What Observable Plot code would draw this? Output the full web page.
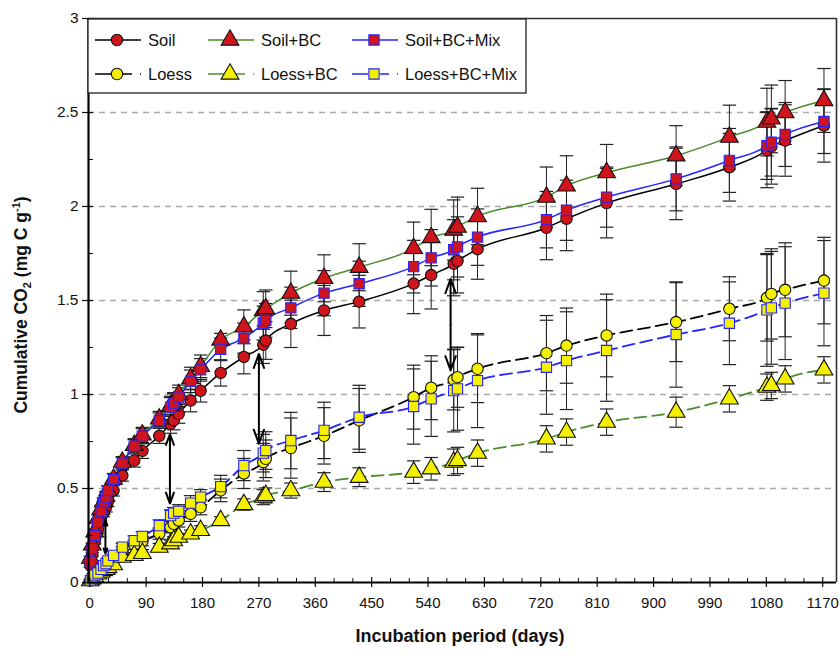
<!DOCTYPE html>
<html><head><meta charset="utf-8">
<script src="https://cdn.jsdelivr.net/npm/d3@7"></script>
<script src="https://cdn.jsdelivr.net/npm/@observablehq/plot@0.6"></script>
<style>body{margin:0;background:#fff} svg{overflow:visible}</style>
</head><body><div id="chart"></div>
<script>
// ---- data ----
const days = [1, 4, 8, 13, 18, 22, 26, 29, 38, 52, 71, 84, 111, 129, 134, 142, 161, 177, 209, 246, 277, 281, 321, 374, 430, 517, 545, 581, 587, 619, 729, 761, 825, 936, 1021, 1081, 1088, 1110, 1172];

const soil       = [0.09, 0.15, 0.22, 0.28, 0.33, 0.37, 0.40, 0.43, 0.49, 0.569, 0.649, 0.70, 0.78, 0.844, 0.862, 0.897, 0.968, 1.02, 1.115, 1.20, 1.265, 1.287, 1.376, 1.447, 1.494, 1.59, 1.635, 1.695, 1.71, 1.773, 1.887, 1.935, 2.018, 2.12, 2.209, 2.30, 2.319, 2.351, 2.431];
const soilBC     = [0.13, 0.20, 0.27, 0.34, 0.39, 0.43, 0.46, 0.49, 0.55, 0.64, 0.73, 0.785, 0.87, 0.94, 0.96, 1.0, 1.085, 1.15, 1.29, 1.36, 1.447, 1.456, 1.539, 1.618, 1.677, 1.777, 1.835, 1.875, 1.89, 1.947, 2.05, 2.11, 2.18, 2.27, 2.369, 2.449, 2.466, 2.50, 2.564];
const soilBCMix  = [0.11, 0.18, 0.25, 0.32, 0.38, 0.427, 0.454, 0.489, 0.548, 0.635, 0.725, 0.778, 0.862, 0.933, 0.954, 0.986, 1.07, 1.131, 1.24, 1.30, 1.38, 1.394, 1.461, 1.539, 1.589, 1.68, 1.727, 1.77, 1.785, 1.837, 1.93, 1.98, 2.05, 2.147, 2.245, 2.324, 2.342, 2.383, 2.452];
const loess      = [0.01, 0.02, 0.035, 0.05, 0.065, 0.08, 0.09, 0.10, 0.13, 0.17, 0.20, 0.22, 0.26, 0.294, 0.312, 0.33, 0.365, 0.40, 0.49, 0.58, 0.64, 0.658, 0.715, 0.78, 0.862, 0.986, 1.036, 1.078, 1.092, 1.137, 1.22, 1.26, 1.314, 1.385, 1.456, 1.514, 1.535, 1.557, 1.606];
const loessBC    = [0.01, 0.02, 0.03, 0.046, 0.055, 0.064, 0.07, 0.08, 0.095, 0.135, 0.144, 0.155, 0.188, 0.206, 0.223, 0.241, 0.259, 0.277, 0.33, 0.415, 0.454, 0.463, 0.489, 0.534, 0.56, 0.587, 0.605, 0.64, 0.649, 0.688, 0.764, 0.80, 0.853, 0.906, 0.977, 1.039, 1.048, 1.083, 1.131];
const loessBCMix = [0.01, 0.02, 0.04, 0.05, 0.07, 0.09, 0.10, 0.115, 0.144, 0.188, 0.223, 0.245, 0.303, 0.356, 0.369, 0.379, 0.422, 0.454, 0.51, 0.622, 0.688, 0.702, 0.755, 0.809, 0.879, 0.936, 0.977, 1.021, 1.03, 1.074, 1.145, 1.18, 1.234, 1.319, 1.379, 1.45, 1.461, 1.486, 1.539];

// standard errors (half-length of the bars)
const soilErr       = [0.01, 0.01, 0.015, 0.02, 0.02, 0.02, 0.025, 0.025, 0.03, 0.03, 0.035, 0.04, 0.04, 0.05, 0.05, 0.05, 0.06, 0.06, 0.07, 0.09, 0.10, 0.10, 0.126, 0.133, 0.14, 0.16, 0.18, 0.17, 0.17, 0.16, 0.17, 0.17, 0.185, 0.19, 0.18, 0.20, 0.20, 0.19, 0.195];
const soilBCErr     = [0.01, 0.01, 0.015, 0.02, 0.02, 0.02, 0.025, 0.025, 0.03, 0.03, 0.035, 0.04, 0.04, 0.05, 0.05, 0.05, 0.06, 0.06, 0.035, 0.09, 0.10, 0.10, 0.117, 0.125, 0.125, 0.14, 0.15, 0.16, 0.16, 0.15, 0.16, 0.16, 0.15, 0.16, 0.17, 0.18, 0.18, 0.17, 0.17];
const soilBCMixErr  = [0.01, 0.01, 0.015, 0.02, 0.02, 0.02, 0.025, 0.025, 0.03, 0.03, 0.035, 0.04, 0.04, 0.05, 0.05, 0.05, 0.06, 0.06, 0.06, 0.08, 0.09, 0.09, 0.11, 0.12, 0.12, 0.14, 0.15, 0.16, 0.16, 0.15, 0.15, 0.16, 0.16, 0.17, 0.17, 0.18, 0.18, 0.17, 0.17];
const loessErr      = [0.005, 0.005, 0.01, 0.01, 0.01, 0.015, 0.015, 0.015, 0.02, 0.02, 0.025, 0.025, 0.03, 0.03, 0.03, 0.035, 0.04, 0.04, 0.06, 0.08, 0.10, 0.10, 0.16, 0.15, 0.17, 0.17, 0.17, 0.16, 0.16, 0.18, 0.20, 0.20, 0.22, 0.21, 0.17, 0.23, 0.24, 0.25, 0.23];
const loessBCErr    = [0.005, 0.005, 0.005, 0.01, 0.01, 0.01, 0.01, 0.01, 0.015, 0.015, 0.015, 0.02, 0.02, 0.02, 0.02, 0.02, 0.02, 0.025, 0.02, 0.03, 0.04, 0.04, 0.04, 0.05, 0.05, 0.06, 0.06, 0.07, 0.07, 0.07, 0.07, 0.07, 0.07, 0.08, 0.07, 0.07, 0.07, 0.07, 0.07];
const loessBCMixErr = [0.005, 0.005, 0.01, 0.01, 0.01, 0.015, 0.015, 0.015, 0.02, 0.02, 0.025, 0.025, 0.03, 0.03, 0.03, 0.035, 0.04, 0.04, 0.06, 0.08, 0.10, 0.10, 0.15, 0.15, 0.17, 0.20, 0.20, 0.22, 0.22, 0.25, 0.25, 0.26, 0.27, 0.28, 0.22, 0.30, 0.30, 0.30, 0.28];

// double-headed arrows marking the difference between soils
const arrowDay    = [25, 128, 270, 576];
const arrowTop    = [0.33, 0.79, 1.216, 1.615];
const arrowBottom = [0.153, 0.42, 0.738, 1.128];

const xTicks = [0, 90, 180, 270, 360, 450, 540, 630, 720, 810, 900, 990, 1080, 1170];
const yTicks = [0, 0.5, 1, 1.5, 2, 2.5, 3];
const gridY  = [0.5, 1, 1.5, 2, 2.5];

// ---- styles ----
const RED = "#d0141c", YEL = "#f4f000", GREEN = "#4c8c2c", BLUE = "#2424ff";
const series = [
  {key:"Soil",          v:soil,       e:soilErr,       line:"#000", dash:null,   symbol:"circle",   fill:RED, ms:"#111", r:5.7},
  {key:"Soil+BC",       v:soilBC,     e:soilBCErr,     line:GREEN,  dash:null,   symbol:"triangle", fill:RED, ms:"#111", r:6.6},
  {key:"Soil+BC+Mix",   v:soilBCMix,  e:soilBCMixErr,  line:BLUE,   dash:null,   symbol:"square",   fill:RED, ms:BLUE,   r:5.8},
  {key:"Loess",         v:loess,      e:loessErr,      line:"#000", dash:"12,6", symbol:"circle",   fill:YEL, ms:"#111", r:5.7},
  {key:"Loess+BC",      v:loessBC,    e:loessBCErr,    line:GREEN,  dash:"12,6", symbol:"triangle", fill:YEL, ms:"#111", r:6.6},
  {key:"Loess+BC+Mix",  v:loessBCMix, e:loessBCMixErr, line:BLUE,   dash:"12,6", symbol:"square",   fill:YEL, ms:BLUE,   r:5.8},
];
const rows = series.flatMap(s => days.map((d, i) => ({series: s.key, day: d, v: s.v[i], e: s.e[i]})));
const arrows = arrowDay.map((d, i) => ({day: d, top: arrowTop[i], bot: arrowBottom[i], mid: (arrowTop[i] + arrowBottom[i]) / 2}));

const capSymbol = {draw(ctx, size) { const w = Math.sqrt(size) * 0.9; ctx.moveTo(-w, 0); ctx.lineTo(w, 0); }};

const marks = [
  Plot.ruleY(gridY, {stroke: "#a8a8a8", strokeWidth: 1.6, strokeDasharray: "6,5"}),
  Plot.ruleX(rows, {x: "day", y1: d => d.v - d.e, y2: d => d.v + d.e, stroke: "#222", strokeWidth: 1}),
  Plot.dot(rows, {x: "day", y: d => d.v + d.e, symbol: capSymbol, r: 4.2, stroke: "#222", fill: "none", strokeWidth: 1.2}),
  Plot.dot(rows, {x: "day", y: d => d.v - d.e, symbol: capSymbol, r: 4.2, stroke: "#222", fill: "none", strokeWidth: 1.2}),
];
for (const s of series) {
  marks.push(Plot.line(rows.filter(r => r.series === s.key), {x: "day", y: "v", stroke: s.line, strokeWidth: s.dash ? 1.8 : 1.5, strokeDasharray: s.dash, curve: "monotone-x"}));
}
for (const s of series) {
  marks.push(Plot.dot(rows.filter(r => r.series === s.key), {x: "day", y: "v", symbol: s.symbol, r: s.r, fill: s.fill, stroke: s.ms, strokeWidth: 1.1}));
}
marks.push(
  Plot.arrow(arrows, {x1: "day", x2: "day", y1: "mid", y2: "top", stroke: "#000", strokeWidth: 2, headLength: 13, headAngle: 40, insetEnd: 0, insetStart: 0}),
  Plot.arrow(arrows, {x1: "day", x2: "day", y1: "mid", y2: "bot", stroke: "#000", strokeWidth: 2, headLength: 13, headAngle: 40, insetEnd: 0, insetStart: 0}),
  // axes
  Plot.axisX({ticks: xTicks, tickSize: 5, tickPadding: 10, tickFormat: d => String(d), fontSize: 15, fontFamily: "Liberation Sans Narrow, Arial Narrow, Liberation Sans, Arial, sans-serif", label: null, strokeWidth: 1.2}),
  Plot.axisX({ticks: xTicks, tickSize: -5, tickFormat: null, text: null, label: null, strokeWidth: 1.2}),
  Plot.axisX({ticks: d3.range(30, 1191, 30).filter(d => d % 90 !== 0), tickSize: -4, text: null, label: null, strokeWidth: 1}),
  Plot.axisY({ticks: yTicks, tickSize: 6, tickPadding: 4, tickFormat: d => String(d), fontSize: 15.5, label: null, strokeWidth: 1.2}),
  Plot.axisY({ticks: yTicks, tickSize: -5, text: null, label: null, strokeWidth: 1.2}),
  Plot.axisY({ticks: [0.25, 0.75, 1.25, 1.75, 2.25, 2.75], tickSize: -5, text: null, label: null, strokeWidth: 1}),
  Plot.ruleY([3], {stroke: "#333", strokeWidth: 1.6}),
  Plot.ruleX([1192], {stroke: "#333", strokeWidth: 1.6}),
  Plot.ruleX([-2], {stroke: "#000", strokeWidth: 2.2}),
  Plot.ruleY([0], {stroke: "#000", strokeWidth: 2.2})
);

const chart = Plot.plot({
  width: 839, height: 660,
  marginLeft: 88, marginRight: 3, marginTop: 18, marginBottom: 78,
  x: {domain: [-2, 1192]},
  y: {domain: [0, 3]},
  style: {fontFamily: "Liberation Sans, Arial, sans-serif", fontSize: "15px", color: "#111", background: "#fff"},
  marks
});
document.getElementById("chart").appendChild(chart);

// ---- axis titles and legend ----
const svg = d3.select(chart);
const yl = svg.append("text").attr("transform", "translate(27,305) rotate(-90)").attr("text-anchor", "middle")
  .attr("font-family", "Liberation Sans, Arial, sans-serif").attr("font-weight", "bold").attr("font-size", 17.5).attr("fill", "#111");
yl.append("tspan").text("Cumulative CO");
yl.append("tspan").text("2").attr("font-size", 11).attr("dy", 4);
yl.append("tspan").text(" (mg C g").attr("dy", -4);
yl.append("tspan").text("-1").attr("font-size", 11).attr("dy", -7);
yl.append("tspan").text(")").attr("dy", 7);

svg.append("text").attr("x", 460).attr("y", 642).attr("text-anchor", "middle")
  .attr("font-family", "Liberation Sans, Arial, sans-serif").attr("font-weight", "bold").attr("font-size", 18).attr("fill", "#111")
  .text("Incubation period (days)");

const lg = svg.append("g");
lg.append("rect").attr("x", 88).attr("y", 19).attr("width", 438).attr("height", 74).attr("fill", "#fff").attr("stroke", "#222").attr("stroke-width", 1.3);
const cols = [95, 208, 352];
series.forEach((s, i) => {
  const col = i % 3, row = Math.floor(i / 3);
  const x0 = cols[col], y0 = row === 0 ? 40 : 74;
  const p = lg.append("line").attr("x1", x0).attr("x2", x0 + 46).attr("y1", y0).attr("y2", y0)
    .attr("stroke", s.line).attr("stroke-width", 1.6);
  if (s.dash) p.attr("stroke-dasharray", "16,12,9,8,1.5,100");
  const sym = {circle: d3.symbolCircle, triangle: d3.symbolTriangle, square: d3.symbolSquare}[s.symbol];
  lg.append("path").attr("d", d3.symbol(sym, Math.PI * s.r * s.r)())
    .attr("transform", `translate(${x0 + 22},${y0})`).attr("fill", s.fill).attr("stroke", s.ms).attr("stroke-width", 1.1);
  lg.append("text").attr("x", x0 + 53).attr("y", y0 + 6).attr("text-anchor", "start").attr("font-size", 16.5).attr("fill", "#111")
    .attr("font-family", "Liberation Sans, Arial, sans-serif").text(s.key);
});
</script>
</body></html>
